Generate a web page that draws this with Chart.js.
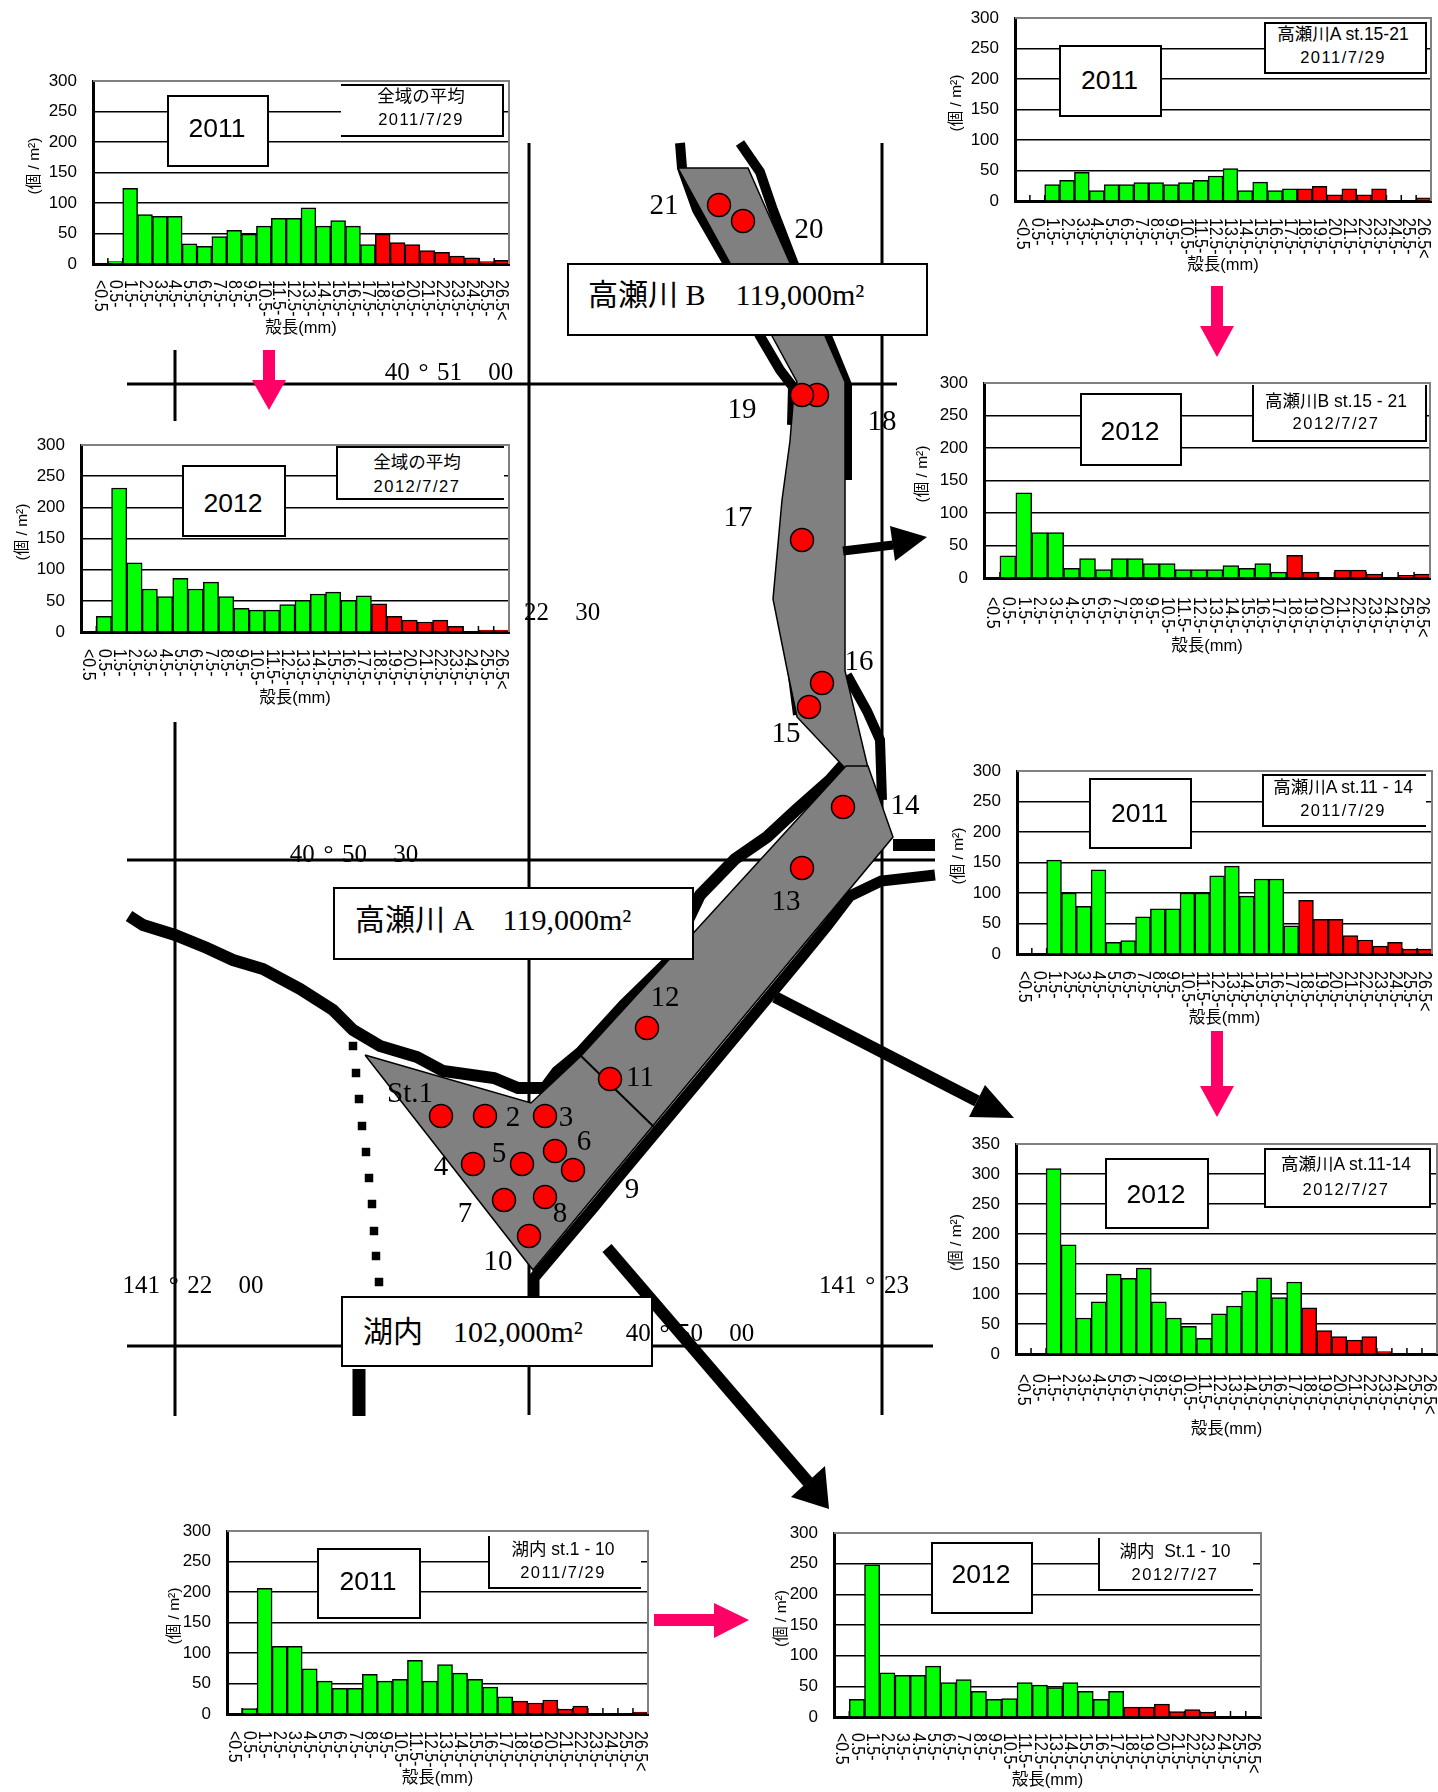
<!DOCTYPE html>
<html>
<head>
<meta charset="utf-8">
<title>殻長組成</title>
<script src="https://cdn.jsdelivr.net/npm/chart.js@4"></script>
<style>
  html, body { margin: 0; padding: 0; background: #fff; }
  #page { position: relative; width: 1438px; height: 1792px; overflow: hidden; }
  #page canvas { position: absolute; }
  .box { position: absolute; box-sizing: border-box; background: #fff; }
  .txt { position: absolute; transform: translate(-50%, -50%); white-space: pre; color: #000; }
  .left { transform: translate(0, -50%); }
</style>
</head>
<body>
<div id="page"><canvas id="map" width="1438" height="1792" style="left:0;top:0"></canvas></div>
<script>
// size classes, one per bar
const sizeClasses = ["<0.5", "0.5-", "1.5-", "2.5-", "3.5-", "4.5-", "5.5-", "6.5-", "7.5-", "8.5-", "9.5-",
  "10.5-", "11.5-", "12.5-", "13.5-", "14.5-", "15.5-", "16.5-", "17.5-", "18.5-", "19.5-", "20.5-",
  "21.5-", "22.5-", "23.5-", "24.5-", "25.5-", "26.5<"];

// densities
const allArea2011 = [0, 4, 124, 81, 78, 78, 33, 29, 45, 55, 49, 62, 75, 75, 92, 62, 71, 62, 32, 49, 35, 32, 22, 19, 13, 10, 4, 6];
const allArea2012 = [0, 25, 231, 111, 69, 57, 86, 69, 80, 57, 38, 35, 35, 44, 51, 61, 64, 51, 58, 45, 25, 19, 16, 19, 9, 0, 3, 3];
const st1521y2011 = [0, 0, 27, 34, 47, 17, 27, 27, 30, 30, 27, 30, 34, 41, 53, 17, 31, 17, 20, 20, 24, 10, 20, 10, 20, 0, 0, 5];
const st1521y2012 = [0, 34, 131, 70, 70, 15, 30, 13, 30, 30, 22, 22, 13, 13, 13, 19, 15, 22, 9, 35, 9, 0, 12, 12, 6, 0, 4, 6];
const st1114y2011 = [0, 0, 154, 100, 78, 138, 19, 22, 61, 74, 74, 100, 100, 128, 144, 95, 123, 123, 46, 88, 57, 57, 30, 23, 13, 19, 8, 8];
const st1114y2012 = [0, 0, 309, 182, 60, 87, 133, 126, 143, 87, 60, 46, 26, 67, 80, 105, 127, 94, 120, 77, 39, 29, 23, 29, 4, 0, 0, 0];
const lake2011 = [0, 9, 206, 111, 111, 74, 54, 42, 42, 65, 54, 57, 88, 54, 81, 67, 57, 44, 28, 21, 18, 23, 8, 13, 0, 0, 0, 3];
const lake2012 = [0, 29, 248, 72, 68, 68, 83, 56, 61, 42, 29, 30, 56, 52, 48, 56, 42, 29, 42, 16, 16, 21, 9, 12, 8, 0, 0, 0];

const firstRedClass = 19; // 18.5- and up are drawn red

// map shapes, in page pixels
const bigArea = [[678,168],[748,168],[790,263],[825,336],[845,382],[845,671],[868,768],[845,768],[797,717],[787,669],[773,599],[782,500],[790,441],[793,404],[797,382],[772,336],[730,263],[678,168]];
const lakeArea = [[365,1055],[531,1103],[581,1056],[846,766],[868,766],[893,837],[533,1270],[365,1055]];
const lakeDivider = [[581,1056],[654,1127]];
const northBank = [[129,916],[143,925],[175,935],[207,948],[233,960],[263,969],[300,989],[333,1010],[353,1030],[380,1046],[417,1057],[443,1071],[494,1078],[518,1088],[545,1088],[557,1072],[581,1052],[624,1005],[668,962],[700,895],[735,859],[767,837],[795,811],[830,780],[846,762]];
const southBank = [[935,875],[881,881],[850,896],[827,926],[801,958],[703,1076],[647,1143],[617,1179],[594,1207],[561,1246],[534,1278],[534,1296]];
const riverMouth = [[893,845],[935,845]];
const upperLeftBank = [[680,143],[682,168],[697,210],[727,262],[760,336],[780,370],[793,387],[792,425]];
const upperRightBank = [[740,143],[760,172],[773,210],[793,262],[827,336],[847,385],[847,480]];
const midLeftBank = [[790,669],[796,715]];
const midRightBank = [[847,675],[867,711],[880,740],[882,800]];
const dottedShore = [[353,1046],[356,1073],[359,1099],[362,1126],[366,1152],[369,1178],[372,1204],[374,1231],[376,1256],[379,1282]];
const shoreStub = [[359,1369],[359,1416]];
const gridLines = [
  [[175,350],[175,421]], [[175,722],[175,1416]], [[529,143],[529,1415]], [[882,143],[882,1415]],
  [[127,384],[897,384]], [[127,860],[935,860]], [[127,1346],[933,1346]]
];
const stations = [[441,1116],[485,1116],[545,1116],[473,1164],[522,1164],[555,1151],[573,1170],[504,1200],[545,1197],[529,1236],
  [610,1079],[647,1028],[802,868],[843,807],[809,707],[822,683],[802,540],[817,395],[802,395],[743,221],[719,205]];

const blackArrows = [
  { shaft: [[843,551],[893,545]], head: [[927,537],[890,526],[895,561]], width: 9 },
  { shaft: [[775,997],[977,1101]], head: [[1014,1118],[985,1085],[969,1117]], width: 12 },
  { shaft: [[607,1248],[808,1482]], head: [[829,1509],[791,1497],[825,1466]], width: 12 }
];
const pinkArrows = [
  { shaft: [[269,350],[269,380]], head: [[269,410],[252,380],[286,380]], width: 12 },
  { shaft: [[1217,286],[1217,326]], head: [[1217,357],[1200,326],[1234,326]], width: 12 },
  { shaft: [[1217,1031],[1217,1086]], head: [[1217,1117],[1200,1086],[1234,1086]], width: 12 },
  { shaft: [[654,1620],[714,1620]], head: [[749,1620],[714,1603],[714,1638]], width: 12 }
];

const stationLabels = [
  ["21",664,204],["20",809,228],["19",742,408],["18",882,420],["17",738,516],["16",859,660],["15",786,732],
  ["14",905,804],["13",786,900],["12",665,996],["11",640,1076],["St.1",410,1092],["2",513,1116],["3",566,1116],
  ["4",441,1165],["5",499,1152],["6",584,1140],["7",465,1212],["8",560,1212],["9",632,1188],["10",498,1260]
];
const coordLabels = [
  ["40 ° 51   00",449,371],["22   30",562,611],["40 ° 50   30",354,853],
  ["141 ° 22   00",193,1284],["141 ° 23",864,1284],["40 ° 50   00",690,1332]
];
const areaBoxes = [
  { text: "高瀬川 B　119,000m²", box: [567,263,928,336], x: 588, y: 295 },
  { text: "高瀬川 A　119,000m²", box: [333,887,694,960], x: 355, y: 920 },
  { text: "湖内　102,000m²", box: [341,1296,653,1367], x: 363, y: 1332 }
];

const panels = [
  { values: allArea2011, yMax: 300, plot: [93,81,509,264], yWidth: 68, xHeight: 74, labelGap: 16, yTitle: "(個 / m²)",
    year: "2011", yearDy: -3, yearBox: [167,95,269,167], infoBox: [341,84,504,137], sides: "trb",
    info: ["全域の平均", "2011/7/29"], infoX: 421, infoY: [97,119] },
  { values: allArea2012, yMax: 300, plot: [81,445,509,632], yWidth: 68, xHeight: 76, labelGap: 17, yTitle: "(個 / m²)",
    year: "2012", yearDy: 2, yearBox: [182,465,286,537], infoBox: [336,446,504,500], sides: "tlb",
    info: ["全域の平均", "2012/7/27"], infoX: 417, infoY: [463,486] },
  { values: st1521y2011, yMax: 300, plot: [1015,18,1431,201], yWidth: 68, xHeight: 74, labelGap: 17, yTitle: "(個 / m²)",
    year: "2011", yearDy: -1, yearBox: [1059,45,1162,117], infoBox: [1264,22,1427,74], sides: "trbl",
    info: ["高瀬川A st.15-21", "2011/7/29"], infoX: 1343, infoY: [35,57] },
  { values: st1521y2012, yMax: 300, plot: [984,383,1430,578], yWidth: 71, xHeight: 78, labelGap: 19, yTitle: "(個 / m²)",
    year: "2012", yearDy: 1, yearBox: [1080,393,1182,466], infoBox: [1252,385,1427,442], sides: "lrb",
    info: ["高瀬川B st.15 - 21", "2012/7/27"], infoX: 1336, infoY: [402,423] },
  { values: st1114y2011, yMax: 300, plot: [1017,771,1432,954], yWidth: 68, xHeight: 74, labelGap: 17, yTitle: "(個 / m²)",
    year: "2011", yearDy: -1, yearBox: [1089,778,1192,849], infoBox: [1262,774,1426,827], sides: "tlb",
    info: ["高瀬川A st.11 - 14", "2011/7/29"], infoX: 1343, infoY: [788,810] },
  { values: st1114y2012, yMax: 350, plot: [1016,1144,1437,1354], yWidth: 69, xHeight: 85, labelGap: 20, yTitle: "(個 / m²)",
    year: "2012", yearDy: 0, yearBox: [1105,1158,1209,1229], infoBox: [1264,1148,1431,1208], sides: "trbl",
    info: ["高瀬川A st.11-14", "2012/7/27"], infoX: 1346, infoY: [1165,1189] },
  { values: lake2011, yMax: 300, plot: [227,1531,648,1714], yWidth: 62, xHeight: 74, labelGap: 17, yTitle: "(個 / m²)",
    year: "2011", yearDy: -3, yearBox: [317,1548,421,1619], infoBox: [488,1536,641,1589], sides: "lb",
    info: ["湖内 st.1 - 10", "2011/7/29"], infoX: 563, infoY: [1550,1572] },
  { values: lake2012, yMax: 300, plot: [834,1533,1261,1717], yWidth: 62, xHeight: 73, labelGap: 16, yTitle: "(個 / m²)",
    year: "2012", yearDy: -4, yearBox: [931,1542,1033,1614], infoBox: [1098,1538,1253,1591], sides: "lb",
    info: ["湖内  St.1 - 10", "2012/7/27"], infoX: 1175, infoY: [1552,1574] }
];

const SANS = '"Liberation Sans","Noto Sans CJK JP",sans-serif';
const SERIF = '"Liberation Serif","Noto Sans CJK JP",serif';
const page = document.getElementById("page");

function xy(points) {
  return points.map(p => ({ x: p[0], y: p[1] }));
}

function stroke(points, width, color) {
  return { data: xy(points), showLine: true, borderColor: color || "#000", borderWidth: width, pointRadius: 0, fill: false };
}

function shape(points, color, edge) {
  return { data: xy(points), showLine: true, backgroundColor: color, borderColor: edge || color, borderWidth: edge ? 1.5 : 0, pointRadius: 0, fill: "shape" };
}

function renderMap() {
  const sets = [];
  gridLines.forEach(l => sets.push(stroke(l, 3)));
  [[northBank, 12], [southBank, 11], [riverMouth, 12], [upperLeftBank, 10], [upperRightBank, 10], [midLeftBank, 6], [midRightBank, 10], [shoreStub, 13]]
    .forEach(b => sets.push(stroke(b[0], b[1])));
  sets.push({ data: xy(dottedShore), showLine: false, pointStyle: "rect", pointRadius: 6, backgroundColor: "#000", borderWidth: 0 });
  sets.push(shape(bigArea, "#808080", "#000"));
  sets.push(shape(lakeArea, "#808080", "#000"));
  sets.push(stroke(lakeDivider, 2));
  sets.push({ data: xy(stations), showLine: false, pointRadius: 11.5, backgroundColor: "#ff0000", borderColor: "#000", borderWidth: 1.5 });
  blackArrows.forEach(a => {
    sets.push(stroke(a.shaft, a.width));
    sets.push(shape(a.head, "#000"));
  });
  pinkArrows.forEach(a => {
    sets.push(stroke(a.shaft, a.width, "#ff0066"));
    sets.push(shape(a.head, "#ff0066"));
  });
  // chart.js paints the lowest order last
  sets.forEach((s, i) => { s.order = -i; });

  new Chart(document.getElementById("map"), {
    type: "scatter",
    data: { datasets: sets },
    options: {
      responsive: false,
      animation: false,
      events: [],
      layout: { autoPadding: false },
      plugins: { legend: { display: false }, tooltip: { enabled: false } },
      scales: {
        x: { type: "linear", display: false, min: 0, max: 1438 },
        y: { type: "linear", display: false, min: 0, max: 1792, reverse: true }
      }
    }
  });
}

const panelDecor = {
  id: "panelDecor",
  beforeDatasetsDraw(chart) {
    const { ctx, chartArea: a } = chart;
    ctx.save();
    ctx.strokeStyle = "#000";
    ctx.lineWidth = 1.5;
    for (let i = 0; i <= sizeClasses.length; i++) {
      const px = a.left + (a.right - a.left) * i / sizeClasses.length;
      ctx.beginPath();
      ctx.moveTo(px, a.bottom);
      ctx.lineTo(px, a.bottom - 6);
      ctx.stroke();
    }
    ctx.restore();
  },
  afterDraw(chart, args, opts) {
    const { ctx, chartArea: a, scales: { x } } = chart;
    ctx.save();
    ctx.strokeStyle = "#808080";
    ctx.lineWidth = 2;
    ctx.beginPath();
    ctx.moveTo(a.left, a.top);
    ctx.lineTo(a.right, a.top);
    ctx.lineTo(a.right, a.bottom);
    ctx.stroke();
    // tick labels read downwards, which the category axis can't do on its own
    ctx.fillStyle = "#000";
    ctx.font = "16px " + SANS;
    ctx.textAlign = "left";
    ctx.textBaseline = "middle";
    sizeClasses.forEach((label, i) => {
      ctx.save();
      ctx.translate(x.getPixelForValue(i), a.bottom + opts.labelGap);
      ctx.rotate(Math.PI / 2);
      ctx.scale(1, 1.2);
      ctx.fillText(label, 0, 0);
      ctx.restore();
    });
    ctx.restore();
  }
};

function renderPanel(p) {
  const [l, t, r, b] = p.plot;
  const topPad = 12, rightPad = 1;
  const canvas = document.createElement("canvas");
  canvas.width = p.yWidth + (r - l) + rightPad;
  canvas.height = topPad + (b - t) + p.xHeight;
  canvas.style.left = (l - p.yWidth) + "px";
  canvas.style.top = (t - topPad) + "px";
  page.appendChild(canvas);

  new Chart(canvas, {
    type: "bar",
    data: {
      labels: sizeClasses,
      datasets: [{
        data: p.values,
        backgroundColor: p.values.map((v, i) => i >= firstRedClass ? "#ff0000" : "#00ff00"),
        borderColor: "#000",
        borderWidth: 1.5,
        barPercentage: 1,
        categoryPercentage: 1
      }]
    },
    options: {
      responsive: false,
      animation: false,
      events: [],
      layout: { autoPadding: false, padding: { top: topPad, right: rightPad } },
      plugins: { legend: { display: false }, tooltip: { enabled: false }, panelDecor: { labelGap: p.labelGap } },
      scales: {
        x: {
          grid: { display: false },
          border: { color: "#000", width: 3 },
          ticks: { display: false, autoSkip: false },
          title: { display: true, text: "殻長(mm)", color: "#000", padding: 0, font: { family: SANS, size: 16.5 } },
          afterFit: s => { s.height = p.xHeight; }
        },
        y: {
          min: 0,
          max: p.yMax,
          grid: {
            drawTicks: false,
            lineWidth: 1.5,
            color: c => (c.tick.value === 0 || c.tick.value === p.yMax) ? "rgba(0,0,0,0)" : "#000"
          },
          border: { color: "#000", width: 3 },
          ticks: { stepSize: 50, padding: 16, color: "#000", font: { family: SANS, size: 17 } },
          // leading spaces nudge the title up, it sits above the axis middle in the original
          title: { display: true, text: "   " + p.yTitle, color: "#000", padding: 0, font: { family: SANS, size: 15.5 } },
          // tick padding would otherwise push the plot top down
          afterFit: s => { s.width = p.yWidth; s.paddingTop = 0; s.paddingBottom = 0; }
        }
      }
    },
    plugins: [panelDecor]
  });

  addBox(p.yearBox, "trbl");
  addBox(p.infoBox, p.sides);
  addText(p.year, (p.yearBox[0] + p.yearBox[2]) / 2 - 1, (p.yearBox[1] + p.yearBox[3]) / 2 + p.yearDy, SANS, 26.5);
  addText(p.info[0], p.infoX, p.infoY[0], SANS, 17.5);
  const date = addText(p.info[1], p.infoX, p.infoY[1], SANS, 16.5);
  date.style.letterSpacing = "1.5px";
}

function addBox(rect, sides) {
  const el = document.createElement("div");
  el.className = "box";
  el.style.left = rect[0] + "px";
  el.style.top = rect[1] + "px";
  el.style.width = (rect[2] - rect[0]) + "px";
  el.style.height = (rect[3] - rect[1]) + "px";
  if (sides.includes("t")) el.style.borderTop = "2px solid #000";
  if (sides.includes("r")) el.style.borderRight = "2px solid #000";
  if (sides.includes("b")) el.style.borderBottom = "2px solid #000";
  if (sides.includes("l")) el.style.borderLeft = "2px solid #000";
  page.appendChild(el);
  return el;
}

function addText(text, x, y, family, size, cls) {
  const el = document.createElement("div");
  el.className = "txt" + (cls ? " " + cls : "");
  el.textContent = text;
  el.style.left = x + "px";
  el.style.top = y + "px";
  el.style.fontFamily = family;
  el.style.fontSize = size + "px";
  el.style.lineHeight = "1";
  page.appendChild(el);
  return el;
}

renderMap();
panels.forEach(renderPanel);
areaBoxes.forEach(a => {
  addBox(a.box, "trbl");
  addText(a.text, a.x, a.y, SERIF, 30, "left");
});
stationLabels.forEach(s => addText(s[0], s[1], s[2], SERIF, 29));
coordLabels.forEach(c => {
  const el = addText(c[0], c[1], c[2], SERIF, 25);
  el.style.wordSpacing = "2.5px";
});
</script>
</body>
</html>
